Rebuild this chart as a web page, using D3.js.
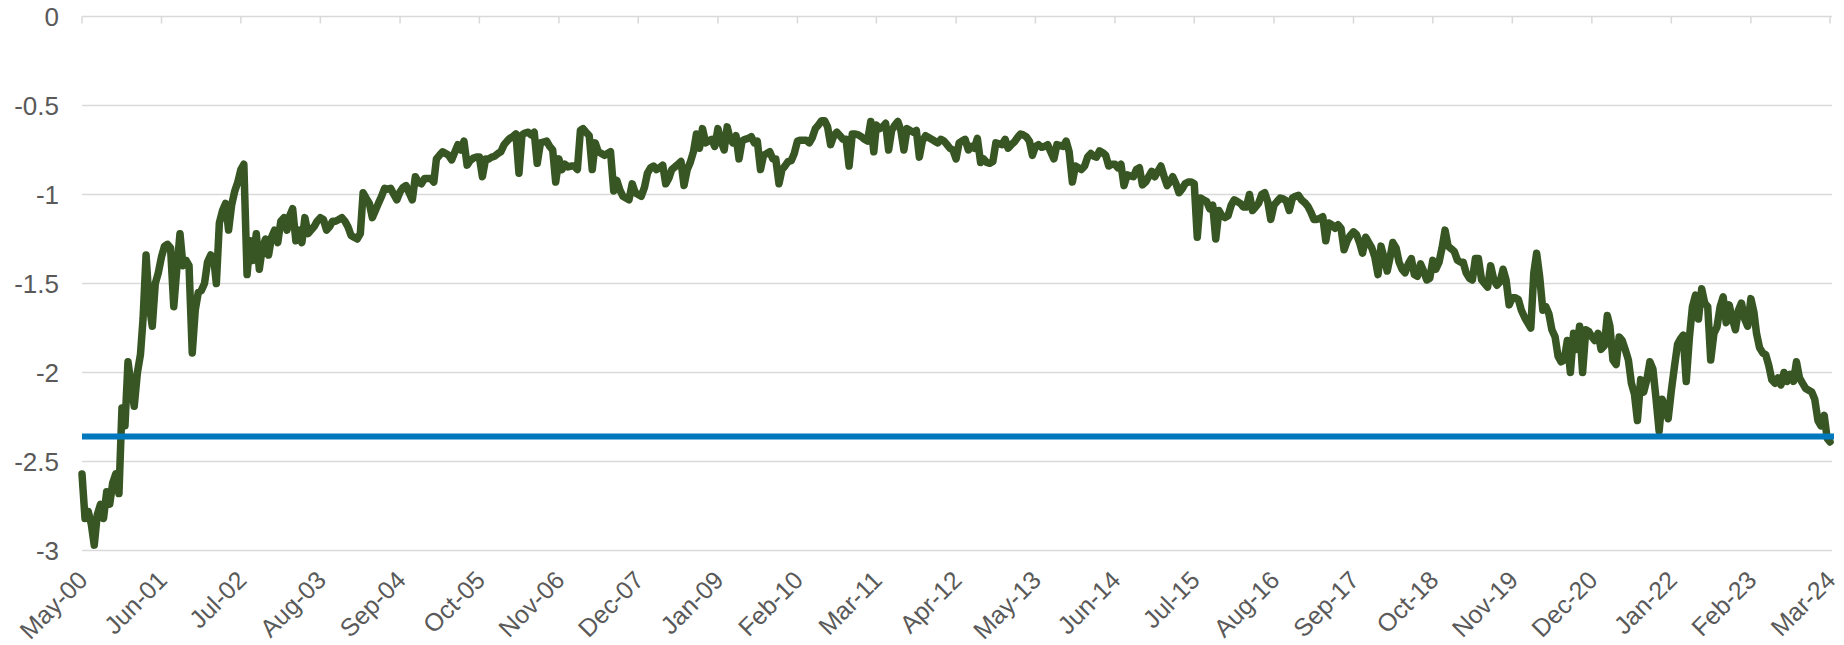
<!DOCTYPE html>
<html>
<head>
<meta charset="utf-8">
<script src="https://cdn.jsdelivr.net/npm/d3@7"></script>
<style>
    body { margin: 0; background: #fff; }
    text { font-family: "Liberation Sans", Arial, sans-serif; fill: #595959; }
</style>
</head>
<body>
<div id="chart"></div>
<script>
// readings on the 1st and 16th of each month, May 2000 .. Mar 2024 (one row per May..Apr year)
var values = [
    -2.57, -2.82, -2.78, -2.85, -2.97, -2.80, -2.74, -2.82, -2.67, -2.74, -2.62, -2.57, -2.68, -2.20, -2.30, -1.94, -2.07, -2.19, -2.00, -1.90, -1.70, -1.34, -1.62, -1.74,
    -1.50, -1.44, -1.35, -1.29, -1.28, -1.30, -1.63, -1.42, -1.22, -1.40, -1.37, -1.40, -1.89, -1.65, -1.55, -1.54, -1.50, -1.38, -1.34, -1.36, -1.50, -1.16, -1.09, -1.05,
    -1.20, -1.06, -0.98, -0.93, -0.86, -0.83, -1.45, -1.26, -1.37, -1.22, -1.42, -1.30, -1.25, -1.34, -1.24, -1.20, -1.27, -1.15, -1.13, -1.20, -1.12, -1.08, -1.26, -1.20,
    -1.27, -1.13, -1.22, -1.20, -1.18, -1.15, -1.13, -1.14, -1.20, -1.18, -1.15, -1.15, -1.14, -1.13, -1.15, -1.18, -1.23, -1.24, -1.25, -1.22, -0.99, -1.02, -1.05, -1.13,
    -1.09, -1.05, -1.01, -0.965, -0.97, -0.965, -1.00, -1.03, -0.985, -0.96, -0.95, -0.99, -1.03, -0.90, -0.93, -0.94, -0.91, -0.91, -0.91, -0.93, -0.80, -0.78, -0.76, -0.77,
    -0.78, -0.805, -0.76, -0.72, -0.75, -0.70, -0.835, -0.81, -0.795, -0.79, -0.79, -0.90, -0.80, -0.80, -0.79, -0.785, -0.77, -0.76, -0.72, -0.70, -0.685, -0.675, -0.66, -0.88,
    -0.665, -0.655, -0.65, -0.665, -0.65, -0.825, -0.71, -0.705, -0.70, -0.73, -0.75, -0.93, -0.80, -0.86, -0.83, -0.845, -0.84, -0.84, -0.86, -0.64, -0.63, -0.65, -0.67, -0.86,
    -0.71, -0.76, -0.77, -0.78, -0.77, -0.76, -0.98, -0.92, -0.975, -1.01, -1.02, -1.03, -0.94, -0.99, -1.00, -1.01, -0.96, -0.88, -0.85, -0.84, -0.86, -0.85, -0.835, -0.94,
    -0.91, -0.86, -0.845, -0.83, -0.815, -0.95, -0.86, -0.82, -0.76, -0.66, -0.74, -0.63, -0.71, -0.70, -0.69, -0.73, -0.63, -0.70, -0.75, -0.62, -0.68, -0.71, -0.67, -0.80,
    -0.70, -0.69, -0.685, -0.675, -0.71, -0.70, -0.86, -0.78, -0.77, -0.76, -0.80, -0.80, -0.94, -0.86, -0.84, -0.815, -0.81, -0.77, -0.70, -0.695, -0.695, -0.695, -0.71, -0.68,
    -0.63, -0.61, -0.585, -0.585, -0.62, -0.72, -0.67, -0.65, -0.67, -0.69, -0.69, -0.84, -0.66, -0.66, -0.665, -0.675, -0.69, -0.70, -0.59, -0.76, -0.61, -0.63, -0.62, -0.60,
    -0.75, -0.64, -0.61, -0.59, -0.64, -0.75, -0.63, -0.64, -0.65, -0.64, -0.79, -0.70, -0.67, -0.68, -0.69, -0.70, -0.71, -0.69, -0.70, -0.72, -0.74, -0.75, -0.80, -0.71,
    -0.70, -0.69, -0.75, -0.73, -0.74, -0.685, -0.82, -0.80, -0.82, -0.825, -0.815, -0.71, -0.715, -0.72, -0.69, -0.74, -0.72, -0.705, -0.68, -0.66, -0.665, -0.675, -0.70, -0.78,
    -0.73, -0.72, -0.735, -0.73, -0.72, -0.76, -0.80, -0.72, -0.725, -0.73, -0.70, -0.76, -0.93, -0.84, -0.85, -0.86, -0.84, -0.79, -0.77, -0.785, -0.79, -0.755, -0.765, -0.78,
    -0.84, -0.83, -0.83, -0.85, -0.83, -0.95, -0.89, -0.895, -0.90, -0.86, -0.85, -0.946, -0.93, -0.90, -0.87, -0.90, -0.87, -0.84, -0.90, -0.95, -0.93, -0.90, -0.94, -0.99,
    -0.97, -0.94, -0.93, -0.93, -0.94, -1.24, -1.02, -1.03, -1.04, -1.08, -1.06, -1.25, -1.09, -1.12, -1.13, -1.12, -1.06, -1.03, -1.04, -1.05, -1.07, -1.07, -1.00, -1.09,
    -1.07, -1.05, -1.00, -0.99, -1.04, -1.14, -1.06, -1.04, -1.02, -1.025, -1.035, -1.09, -1.02, -1.01, -1.005, -1.03, -1.045, -1.065, -1.10, -1.14, -1.14, -1.135, -1.125, -1.26,
    -1.16, -1.17, -1.19, -1.17, -1.19, -1.31, -1.26, -1.23, -1.21, -1.225, -1.27, -1.33, -1.24, -1.27, -1.30, -1.35, -1.45, -1.29, -1.36, -1.43, -1.36, -1.27, -1.30, -1.38,
    -1.42, -1.44, -1.39, -1.36, -1.45, -1.46, -1.39, -1.43, -1.48, -1.47, -1.37, -1.42, -1.38, -1.30, -1.20, -1.29, -1.305, -1.32, -1.37, -1.38, -1.38, -1.44, -1.47, -1.48,
    -1.36, -1.36, -1.48, -1.50, -1.52, -1.40, -1.48, -1.51, -1.49, -1.42, -1.48, -1.62, -1.58, -1.58, -1.59, -1.65, -1.69, -1.72, -1.75, -1.44, -1.33, -1.46, -1.65, -1.63,
    -1.67, -1.76, -1.80, -1.91, -1.94, -1.93, -1.82, -2.00, -1.78, -1.87, -1.74, -2.00, -1.76, -1.77, -1.80, -1.82, -1.78, -1.87, -1.85, -1.68, -1.74, -1.93, -1.955, -1.80,
    -1.82, -1.87, -1.93, -2.06, -2.12, -2.27, -2.04, -2.11, -2.04, -1.94, -1.98, -2.14, -2.33, -2.15, -2.20, -2.26, -2.10, -1.97, -1.84, -1.81, -1.79, -2.05, -1.80, -1.63,
    -1.565, -1.70, -1.53, -1.61, -1.63, -1.93, -1.78, -1.745, -1.63, -1.575, -1.72, -1.62, -1.70, -1.76, -1.65, -1.61, -1.70, -1.74, -1.585, -1.66, -1.78, -1.86, -1.89, -1.90,
    -1.96, -2.04, -2.06, -2.03, -2.07, -2.00, -2.05, -2.01, -2.05, -1.94, -2.03, -2.06, -2.09, -2.10, -2.11, -2.15, -2.27, -2.30, -2.24, -2.37, -2.39
];

var tickLabels = ["May-00", "Jun-01", "Jul-02", "Aug-03", "Sep-04", "Oct-05", "Nov-06", "Dec-07",
    "Jan-09", "Feb-10", "Mar-11", "Apr-12", "May-13", "Jun-14", "Jul-15", "Aug-16", "Sep-17",
    "Oct-18", "Nov-19", "Dec-20", "Jan-22", "Feb-23", "Mar-24"];

var yTicks = [0, -0.5, -1, -1.5, -2, -2.5, -3];

var referenceLevel = -2.36;

var margin = {left: 82, right: 14, top: 16.5, bottom: 94.5},
    width = 1844 - margin.left - margin.right,
    height = 645 - margin.top - margin.bottom;

var svg = d3.select("#chart")
    .append("svg")
    .attr("width", width + margin.left + margin.right)
    .attr("height", height + margin.top + margin.bottom)
    .append("g")
    .attr("transform", "translate(" + margin.left + "," + margin.top + ")");

var parseLabel = d3.timeParse("%b-%y");

var data = values.map(function (v, i) {
    return {date: new Date(2000, 4 + Math.floor(i / 2), i % 2 ? 16 : 1), value: v};
});

var xScale = d3.scaleTime()
    .domain([data[0].date, data[data.length - 1].date])
    .range([0, width]);

var yScale = d3.scaleLinear()
    .domain([-3, 0])
    .range([height, 0]);

// horizontal gridlines (the 0 one doubles as the category axis line)
svg.append("g")
    .attr("class", "grid")
    .selectAll("line")
    .data(yTicks)
    .enter().append("line")
    .attr("x1", 0)
    .attr("x2", width + 2)
    .attr("y1", function (d) { return yScale(d); })
    .attr("y2", function (d) { return yScale(d); })
    .attr("stroke", "#d9d9d9")
    .attr("stroke-width", 1.5);

// y labels
svg.append("g")
    .selectAll("text")
    .data(yTicks)
    .enter().append("text")
    .attr("x", -23)
    .attr("y", function (d) { return yScale(d); })
    .attr("dy", "0.36em")
    .attr("text-anchor", "end")
    .attr("font-size", "26px")
    .text(function (d) { return String(d); });

// category ticks hang below the zero line, labels sit at the bottom
var tickDates = tickLabels.map(parseLabel);

svg.append("g")
    .selectAll("line")
    .data(tickDates)
    .enter().append("line")
    .attr("x1", function (d) { return xScale(d); })
    .attr("x2", function (d) { return xScale(d); })
    .attr("y1", yScale(0))
    .attr("y2", yScale(0) + 7)
    .attr("stroke", "#d9d9d9")
    .attr("stroke-width", 1.5);

svg.append("g")
    .selectAll("text")
    .data(tickLabels)
    .enter().append("text")
    .attr("transform", function (d) {
        return "translate(" + (xScale(parseLabel(d)) + 1) + "," + (height + 25) + ") rotate(-45)";
    })
    .attr("dy", "0.35em")
    .attr("text-anchor", "end")
    .attr("font-size", "25px")
    .text(function (d) { return d; });

var line = d3.line()
    .x(function (d) { return xScale(d.date); })
    .y(function (d) { return yScale(d.value); });

svg.append("path")
    .datum(data)
    .attr("d", line)
    .attr("fill", "none")
    .attr("stroke", "#375623")
    .attr("stroke-width", 7.5)
    .attr("stroke-linejoin", "round")
    .attr("stroke-linecap", "round");

svg.append("line")
    .attr("x1", 0)
    .attr("x2", width + 4)
    .attr("y1", yScale(referenceLevel))
    .attr("y2", yScale(referenceLevel))
    .attr("stroke", "#0078be")
    .attr("stroke-width", 6);
</script>
</body>
</html>
